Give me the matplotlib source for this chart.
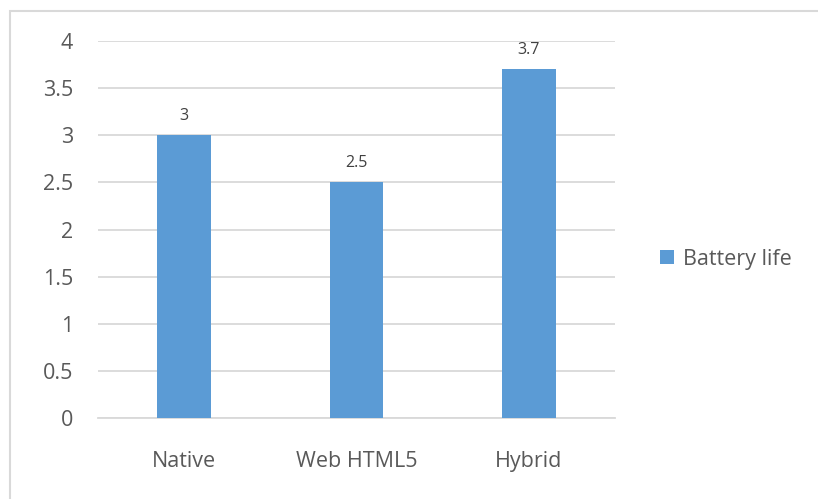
import matplotlib.pyplot as plt
from matplotlib.patches import Rectangle

categories = ['Native', 'Web HTML5', 'Hybrid']
battery_life = [3, 2.5, 3.7]
yticks = [0, 0.5, 1, 1.5, 2, 2.5, 3, 3.5, 4]

plt.rcParams['font.family'] = ['Open Sans', 'DejaVu Sans']
txt = '#595959'
grid = '#D9D9D9'
blue = '#5B9BD5'

fig = plt.figure(figsize=(8.18, 4.99), dpi=100)
ax = fig.add_axes([98/818, 81/499, 517/818, 377/499])

x = range(len(categories))
bars = ax.bar(x, battery_life, width=0.31, color=blue, label='Battery life', zorder=3)
for xi, v in zip(x, battery_life):
    ax.text(xi, v + 0.12, f'{v:g}', ha='center', va='bottom', fontsize=11.5, color='#404040')

ax.set_xlim(-0.5, 2.5)
ax.set_ylim(0, 4)
ax.set_yticks(yticks)
ax.set_yticklabels([f'{t:g}' for t in yticks])
ax.set_xticks(list(x))
ax.set_xticklabels(categories)
ax.tick_params(axis='both', length=0, labelsize=15.5, colors=txt)
ax.tick_params(axis='y', pad=18)
ax.tick_params(axis='x', pad=24)
ax.yaxis.grid(True, color=grid, linewidth=1.3, zorder=0)
for s in ['top', 'right', 'left']:
    ax.spines[s].set_visible(False)
ax.spines['bottom'].set_color(grid)
ax.spines['bottom'].set_linewidth(1.3)

# outer chart frame (cropped)
fig.patches.append(Rectangle((10/818, -0.1), 1.0, 0.1 + 488/499, transform=fig.transFigure,
                             fill=False, edgecolor=grid, linewidth=1.5))

fig.legend(handles=[bars], labels=['Battery life'], loc='center left',
           bbox_to_anchor=(641/818, 1 - 259/499), frameon=False, fontsize=15.5,
           handlelength=0.65, handleheight=0.65, handletextpad=0.4, labelcolor=txt)

fig.savefig('out.png', dpi=100)
